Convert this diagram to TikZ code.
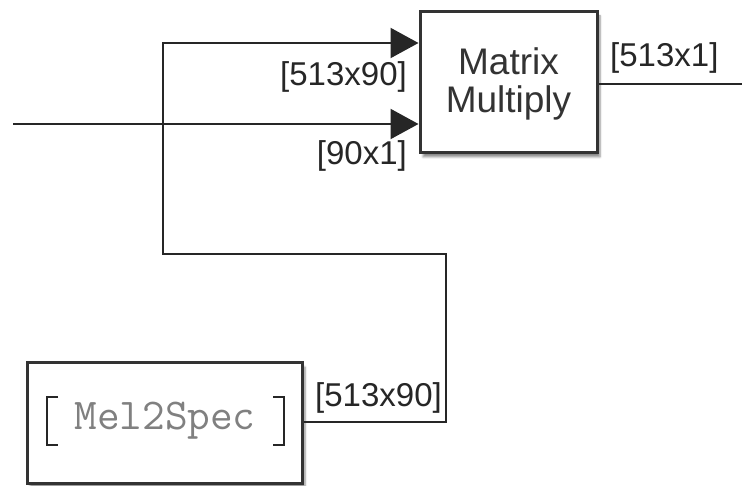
\documentclass[tikz,border=0pt]{standalone}
\usepackage{fontspec}
\setmainfont{Liberation Sans}
\usetikzlibrary{arrows.meta,shadows.blur}
\begin{document}
\begin{tikzpicture}[x=1pt,y=-1pt,
  wire/.style={line width=2.2pt,draw=black!85},
  sig/.style={wire,-{Triangle[length=28pt,width=30pt]}},
  blockbox/.style={draw=black!80,line width=3pt,fill=white,
    blur shadow={shadow xshift=3pt,shadow yshift=-4pt,shadow blur steps=6,shadow opacity=45}},
  dimlabel/.style={inner sep=0pt,font=\fontsize{33}{36}\selectfont,text=black!85}
]
\useasboundingbox (0,0) rectangle (742,486);

% blocks
\node[blockbox,minimum width=177pt,minimum height=141pt,align=center,
  font=\fontsize{37}{38}\selectfont,text=black!80,text depth=4pt] (mm) at (508.5,82.5) {Matrix\\Multiply};
\node[blockbox,minimum width=275pt,minimum height=120pt] (mel) at (164.5,423) {};
\node[font=\ttfamily\fontsize{44}{44}\selectfont,text=black!50,inner sep=0pt] (meltxt) at (165,421) {Mel2Spec};

% bracket marks around the constant value
\coordinate (lbt) at (58,397);
\coordinate (rbt) at (273,397);
\draw[wire,line width=2pt] (lbt) -- ++(-11,0) -- ++(0,48) -- ++(11,0);
\draw[wire,line width=2pt] (rbt) -- ++(11,0) -- ++(0,48) -- ++(-11,0);

% connectors
\coordinate (inL) at (13,124);
\coordinate (outR) at (742,84);
\coordinate (c1) at (446,422);
\coordinate (c2) at (446,254);
\coordinate (c3) at (163,254);
\coordinate (c4) at (163,43);
\coordinate (mmA) at (mm.west |- c4);
\coordinate (mmB) at (mm.west |- inL);

\draw[sig] (mel.east |- c1) -- (c1) -- (c2) -- (c3) -- (c4) -- (mmA);
\draw[sig] (inL) -- (mmB);
\draw[wire] (mm.east |- outR) -- (outR);

% signal dimension labels
\node[dimlabel,anchor=east] (l1) at (407,77) {[513x90]};
\node[dimlabel,anchor=east] (l2) at (407,156) {[90x1]};
\node[dimlabel,anchor=west] (l3) at (610,58) {[513x1]};
\node[dimlabel,anchor=west] (l4) at (315,398) {[513x90]};
\end{tikzpicture}
\end{document}
